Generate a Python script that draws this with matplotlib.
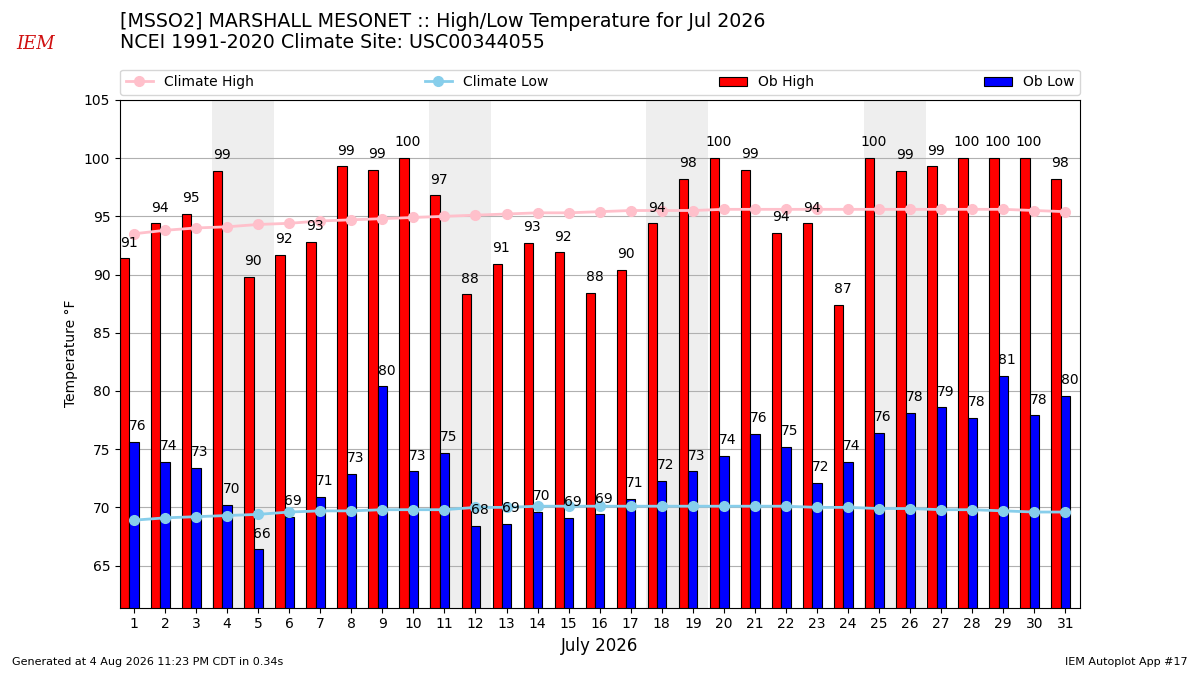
import matplotlib
matplotlib.use("Agg")
import matplotlib.pyplot as plt
import datetime

days = list(range(1, 32))
ob_high = [91.4, 94.4, 95.2, 98.9, 89.8, 91.7, 92.8, 99.3, 99.0, 100.0, 96.8, 88.3, 90.9, 92.7, 91.9,
           88.4, 90.4, 94.4, 98.2, 100.0, 99.0, 93.6, 94.4, 87.4, 100.0, 98.9, 99.3, 100.0, 100.0, 100.0, 98.2]
ob_low = [75.6, 73.9, 73.4, 70.2, 66.4, 69.2, 70.9, 72.9, 80.4, 73.1, 74.7, 68.4, 68.6, 69.6, 69.1,
          69.4, 70.7, 72.3, 73.1, 74.4, 76.3, 75.2, 72.1, 73.9, 76.4, 78.1, 78.6, 77.7, 81.3, 77.9, 79.6]
clim_high = [93.5, 93.8, 94.0, 94.1, 94.3, 94.4, 94.6, 94.7, 94.8, 94.9, 95.0, 95.1, 95.2, 95.3, 95.3,
             95.4, 95.5, 95.5, 95.5, 95.6, 95.6, 95.6, 95.6, 95.6, 95.6, 95.6, 95.6, 95.6, 95.6, 95.5, 95.4]
clim_low = [68.9, 69.1, 69.2, 69.3, 69.4, 69.6, 69.7, 69.7, 69.8, 69.8, 69.8, 70.0, 70.0, 70.1, 70.1,
            70.1, 70.1, 70.1, 70.1, 70.1, 70.1, 70.1, 70.0, 70.0, 69.9, 69.9, 69.8, 69.8, 69.7, 69.6, 69.6]

year, month = 2026, 7

fig = plt.figure(figsize=(12, 6.75), dpi=100)
ax = fig.add_axes([0.1, 0.1, 0.8, 0.752])

# weekend shading
for d in days:
    if datetime.date(year, month, d).weekday() == 5:
        ax.axvspan(d - 0.5, d + 1.5, color="#EEEEEE", zorder=0, lw=0)

w = 0.3
hx = [d - w for d in days]
ax.plot(days, clim_high, color="pink", marker="o", ms=7, lw=2, zorder=3, label="Climate High")
ax.plot(days, clim_low, color="skyblue", marker="o", ms=7, lw=2, zorder=3, label="Climate Low")
ax.bar(hx, ob_high, width=w, color="red", edgecolor="black", lw=0.8, zorder=2, label="Ob High")
ax.bar(days, ob_low, width=w, color="blue", edgecolor="black", lw=0.8, zorder=2, label="Ob Low")

for x, v in zip(hx, ob_high):
    ax.text(x + 0.13, v + 0.75, "%.0f" % v, ha="center", va="bottom", fontsize=10, zorder=4)
for x, v in zip(days, ob_low):
    ax.text(x + 0.13, v + 0.75, "%.0f" % v, ha="center", va="bottom", fontsize=10, zorder=4)

ax.set_xlim(0.55, 31.47)
ax.set_ylim(min(ob_low) - 5, max(ob_high) + 5)
ax.set_xticks(days)
ax.set_xticklabels([str(d) for d in days], fontsize=10)
ax.set_yticks(range(65, 106, 5))
ax.tick_params(axis="y", labelsize=10)
ax.yaxis.grid(True, color="#b0b0b0", lw=0.8, zorder=1)
ax.set_axisbelow(True)
ax.set_ylabel("Temperature °F", fontsize=10)
ax.set_xlabel("July 2026", fontsize=12)

ax.legend(bbox_to_anchor=(0, 1.01, 1, 0.05), loc="lower left", mode="expand",
          ncol=4, fontsize=10, borderaxespad=0)

fig.text(0.1, 1 - 12 / 675,
         "[MSSO2] MARSHALL MESONET :: High/Low Temperature for Jul 2026\n"
         "NCEI 1991-2020 Climate Site: USC00344055",
         ha="left", va="top", fontsize=13.7, linespacing=1.15)
fig.text(0.03, 1 - 44 / 675, "IEM", color="#d01010", fontsize=13, style="italic",
         family="DejaVu Serif", ha="center", va="center")
fig.text(0.01, 0.012, "Generated at 4 Aug 2026 11:23 PM CDT in 0.34s", fontsize=8, ha="left", va="bottom")
fig.text(0.99, 0.012, "IEM Autoplot App #17", fontsize=8, ha="right", va="bottom")

fig.savefig("out.png", dpi=100)
